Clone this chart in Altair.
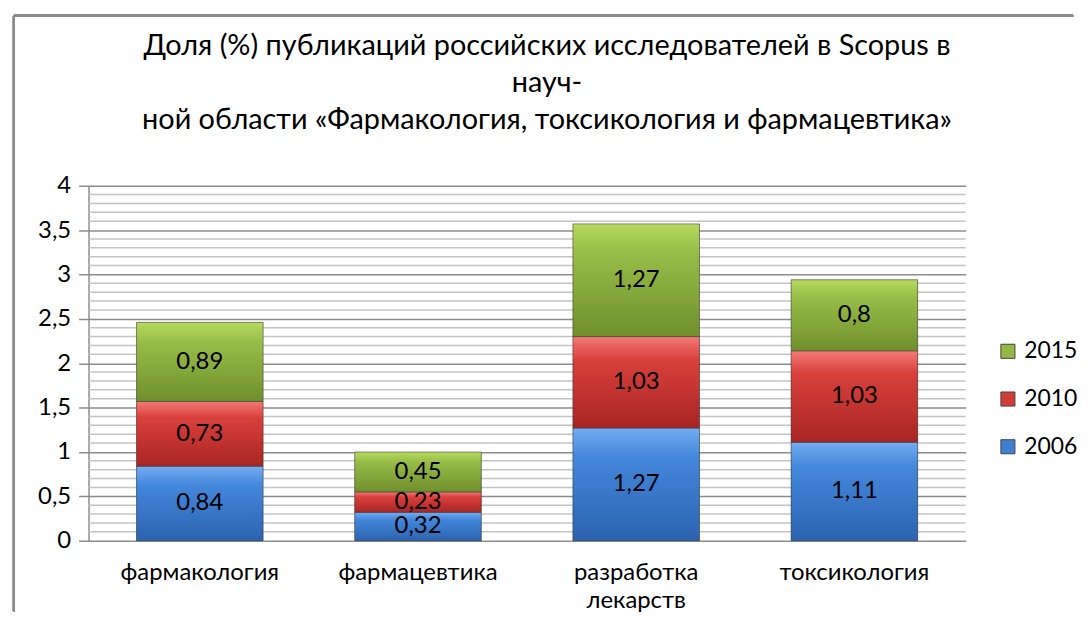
import altair as alt
import pandas as pd

categories = ["фармакология", "фармацевтика", "разработка лекарств", "токсикология"]
years = ["2006", "2010", "2015"]
v2006 = [0.84, 0.32, 1.27, 1.11]
v2010 = [0.73, 0.23, 1.03, 1.03]
v2015 = [0.89, 0.45, 1.27, 0.8]
major_ticks = [0, 0.5, 1, 1.5, 2, 2.5, 3, 3.5, 4]
minor_grid = [0.1, 0.2, 0.3, 0.4, 0.6, 0.7, 0.8, 0.9, 1.1, 1.2, 1.3, 1.4,
              1.6, 1.7, 1.8, 1.9, 2.1, 2.2, 2.3, 2.4, 2.6, 2.7, 2.8, 2.9,
              3.1, 3.2, 3.3, 3.4, 3.6, 3.7, 3.8, 3.9]
title_lines = ["Доля (%) публикаций российских исследователей в Scopus в",
               "науч-",
               "ной области «Фармакология, токсикология и фармацевтика»"]

flat = {"2006": "#3f7fd0", "2010": "#d23c38", "2015": "#93b844"}
grads = {
    "2006": ["#74adf2", "#4487dc", "#2c63b0"],
    "2010": ["#f47a76", "#d9403c", "#a82523"],
    "2015": ["#b6da5e", "#97bd48", "#708f2c"],
}

rows = []
for i, c in enumerate(categories):
    for j, (yr, vals) in enumerate(zip(years, [v2006, v2010, v2015])):
        v = vals[i]
        rows.append(dict(cat=c, year=yr, order=j, value=v,
                         label=f"{v:g}".replace(".", ",")))
df = pd.DataFrame(rows)
grid_df = pd.DataFrame({"g": minor_grid})

FONT = "Lato"
FS = 24
W, H = 882, 357

xenc = alt.X("cat:N", sort=categories, title=None,
             scale=alt.Scale(paddingInner=0.42, paddingOuter=0.22),
             axis=alt.Axis(labelFontSize=FS, labelFont=FONT, labelColor="black",
                           labelAngle=0, labelPadding=20, ticks=False, domain=False,
                           labelExpr="split(datum.label, ' ')", labelLineHeight=28))
yscale = alt.Scale(domain=[0, 4], nice=False)

base = alt.Chart(df).transform_stack(
    stack="value", as_=["y0", "y1"], groupby=["cat"],
    sort=[alt.SortField("order", order="ascending")]
).transform_calculate(mid="(datum.y0 + datum.y1) / 2")

minor = alt.Chart(grid_df).mark_rule(color="#c4c4c4", strokeWidth=1.5).encode(
    y=alt.Y("g:Q", scale=yscale))

legend_layer = base.mark_bar().encode(
    x=xenc,
    y=alt.Y("y0:Q", scale=yscale, title=None,
            axis=alt.Axis(values=major_ticks, labelFontSize=FS, labelFont=FONT,
                          labelColor="black", labelPadding=8, tickSize=10,
                          tickColor="#8c8c8c", domainColor="#8c8c8c", domainWidth=1.5,
                          gridColor="#8c8c8c", gridWidth=1.5, tickWidth=1.5,
                          labelExpr="replace(toString(datum.value), '.', ',')")),
    y2="y1:Q",
    color=alt.Color("year:N", title=None,
                    scale=alt.Scale(domain=["2015", "2010", "2006"],
                                    range=[flat["2015"], flat["2010"], flat["2006"]]),
                    legend=alt.Legend(orient="none", legendX=913, legendY=155,
                                      symbolType="square", symbolSize=200,
                                      symbolStrokeColor="#444", symbolStrokeWidth=1,
                                      labelFontSize=FS - 1, labelFont=FONT, labelColor="black",
                                      rowPadding=24, labelOffset=5)),
)

bars = []
for yr in years:
    g = grads[yr]
    bars.append(base.transform_filter(alt.datum.year == yr).mark_bar(
        color=alt.Gradient(gradient="linear", x1=0, x2=0, y1=0, y2=1,
                           stops=[alt.GradientStop(color=g[0], offset=0),
                                  alt.GradientStop(color=g[1], offset=0.25),
                                  alt.GradientStop(color=g[2], offset=1)]),
        stroke="#3a3a3a", strokeWidth=0.8, strokeOpacity=0.7
    ).encode(x=xenc, y=alt.Y("y0:Q", scale=yscale), y2="y1:Q"))

labels = base.mark_text(fontSize=FS, font=FONT, color="black").encode(
    x=xenc, y=alt.Y("mid:Q", scale=yscale), text="label:N")

border = alt.Chart(grid_df).mark_rule(color="#8c8c8c", strokeWidth=2).encode(
    x=alt.value(-75), x2=alt.value(990), y=alt.value(-171), y2=alt.value(-171))
border_left = alt.Chart(grid_df).mark_rule(color="#8c8c8c", strokeWidth=2).encode(
    x=alt.value(-75), x2=alt.value(-75), y=alt.value(-171), y2=alt.value(428))

chart = alt.layer(minor, legend_layer, *bars, labels, border, border_left).properties(
    width=W, height=H,
    title=alt.TitleParams(text=title_lines, fontSize=29, font=FONT, fontWeight="normal",
                          color="black", lineHeight=37, anchor="middle", offset=0,
                          dy=121, dx=20),
).configure_view(stroke=None)

chart.save("out.html", embed_options={"renderer": "svg", "actions": False})
